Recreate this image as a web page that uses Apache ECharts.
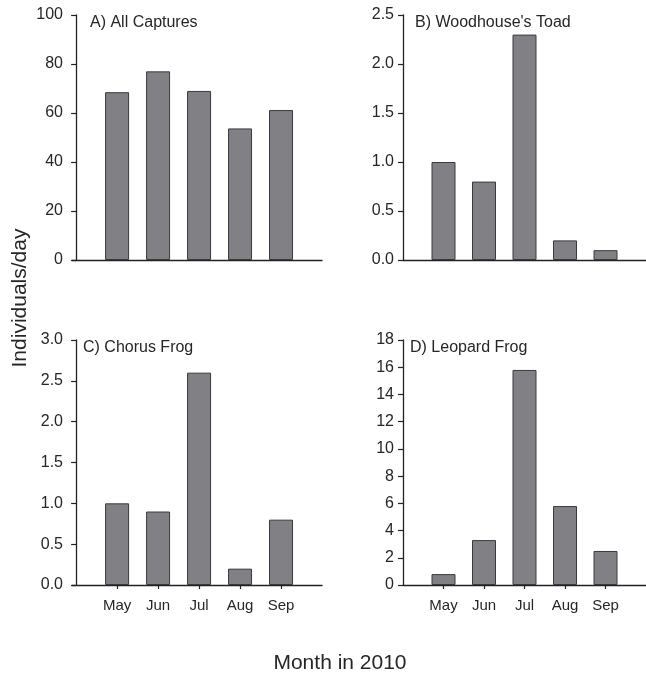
<!DOCTYPE html>
<html>
<head>
<meta charset="utf-8">
<script src="https://cdn.jsdelivr.net/npm/echarts@6/dist/echarts.min.js"></script>
<style>
  html, body { margin: 0; padding: 0; background: #fff; }
  #chart { width: 646px; height: 676px; }
</style>
</head>
<body>
<div id="chart"></div>
<script>
// Monthly capture rates (individuals per day), 2010
const months = ['May', 'Jun', 'Jul', 'Aug', 'Sep'];
const allCaptures = [68.5, 77, 69, 53.7, 61.2];
const woodhouseToad = [1.0, 0.8, 2.3, 0.2, 0.1];
const chorusFrog = [1.0, 0.9, 2.6, 0.2, 0.8];
const leopardFrog = [0.8, 3.3, 15.8, 5.8, 2.5];

const panelTitles = ['A) All Captures', "B) Woodhouse's Toad", 'C) Chorus Frog', 'D) Leopard Frog'];
const panelData = [allCaptures, woodhouseToad, chorusFrog, leopardFrog];
const yMax = [100, 2.5, 3.0, 18];
const yStep = [20, 0.5, 0.5, 2];
const yDecimals = [0, 1, 1, 0];

const FONT = 'Liberation Sans, Arial, sans-serif';
const TEXT = '#262626';
const AXIS = '#222';

// Grid layout: left column / right column, top row / bottom row
const grids = [
  { left: 72, top: 15, width: 250, height: 245 },
  { left: 403, top: 15, width: 243, height: 245 },
  { left: 72, top: 340, width: 250, height: 245 },
  { left: 403, top: 340, width: 243, height: 245 }
];
const xRange = [[-0.1, 6.0], [0, 6], [-0.1, 6.0], [0, 6]];
const titlePos = [[90, 15], [415, 15], [83, 340], [410, 340]];

const positions = months.map((m, i) => i + 1);

const xAxes = grids.map((g, i) => {
  const bottomRow = i >= 2;
  return {
    type: 'value',
    gridIndex: i,
    min: xRange[i][0],
    max: xRange[i][1],
    splitLine: { show: false },
    axisLine: { show: true, onZero: false, lineStyle: { color: AXIS, width: 1.3 } },
    axisTick: {
      show: bottomRow,
      customValues: positions,
      length: 4,
      lineStyle: { color: AXIS, width: 1.2 }
    },
    axisLabel: {
      show: bottomRow,
      customValues: positions,
      margin: 13,
      fontFamily: FONT,
      fontSize: 15,
      color: TEXT,
      formatter: v => months[Math.round(v) - 1] || ''
    }
  };
});

const yAxes = grids.map((g, i) => ({
  type: 'value',
  gridIndex: i,
  min: 0,
  max: yMax[i],
  interval: yStep[i],
  splitLine: { show: false },
  axisLine: { show: true, lineStyle: { color: AXIS, width: 1.3 } },
  axisTick: { show: true, length: 5, lineStyle: { color: AXIS, width: 1.2 } },
  axisLabel: {
    margin: 9,
    fontFamily: FONT,
    fontSize: 16,
    color: TEXT,
    formatter: v => v.toFixed(yDecimals[i])
  }
}));

const series = panelData.map((vals, i) => ({
  type: 'bar',
  xAxisIndex: i,
  yAxisIndex: i,
  barWidth: 24,
  data: vals.map((v, k) => [positions[k], v]),
  itemStyle: { color: '#818185', borderColor: '#3a3a3a', borderWidth: 1 },
  emphasis: { disabled: true },
  animation: false
}));

const titles = panelTitles.map((t, i) => ({
  text: t,
  left: titlePos[i][0],
  top: titlePos[i][1],
  padding: 0,
  textStyle: { fontFamily: FONT, fontSize: 16, fontWeight: 'normal', color: TEXT }
}));

const chart = echarts.init(document.getElementById('chart'), null, { renderer: 'canvas' });
chart.setOption({
  animation: false,
  backgroundColor: '#fff',
  title: titles,
  grid: grids.map(g => Object.assign({ containLabel: false }, g)),
  xAxis: xAxes,
  yAxis: yAxes,
  series: series,
  graphic: [
    {
      type: 'text',
      x: 20,
      y: 298,
      rotation: Math.PI / 2,
      style: {
        text: 'Individuals/day',
        fontFamily: FONT,
        fontSize: 21,
        fill: TEXT,
        align: 'center',
        verticalAlign: 'middle'
      }
    },
    {
      type: 'text',
      x: 340,
      y: 663,
      style: {
        text: 'Month in 2010',
        fontFamily: FONT,
        fontSize: 21,
        fill: TEXT,
        align: 'center',
        verticalAlign: 'middle'
      }
    }
  ]
});
</script>
</body>
</html>
